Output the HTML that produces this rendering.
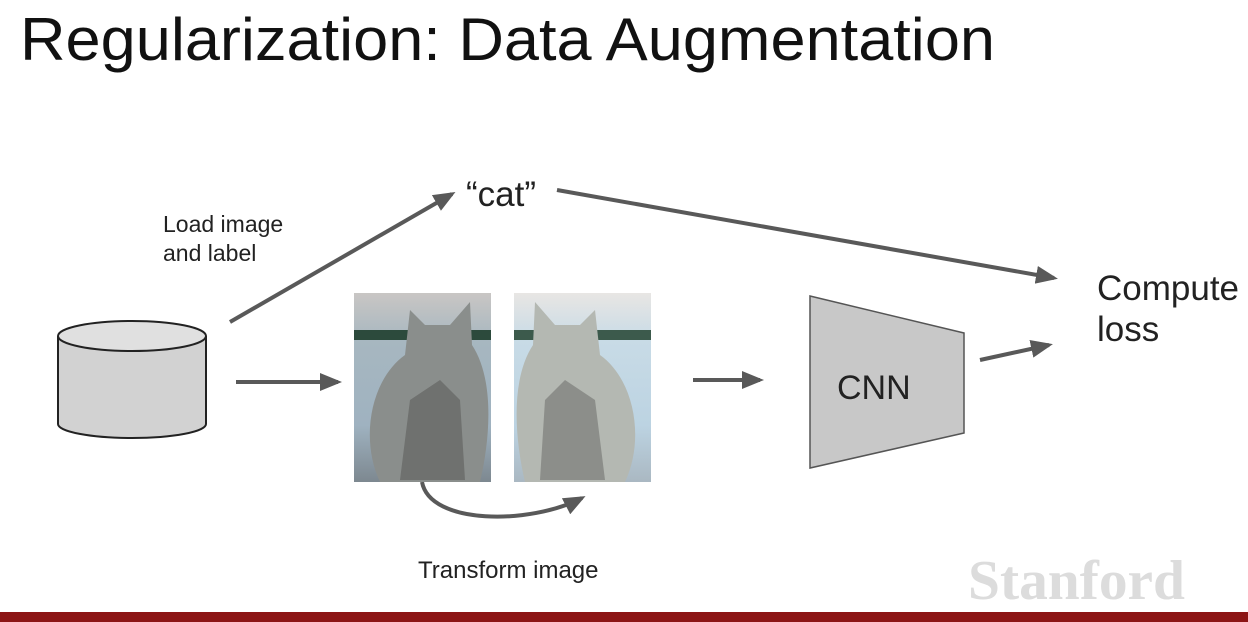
<!DOCTYPE html>
<html><head><meta charset="utf-8"><style>
html,body{margin:0;padding:0;background:#fff;width:1248px;height:622px;overflow:hidden}
</style></head><body>
<svg width="1248" height="622" viewBox="0 0 1248 622" xmlns="http://www.w3.org/2000/svg">
<defs>
<marker id="ah" markerWidth="22" markerHeight="18" refX="18" refY="9" orient="auto" markerUnits="userSpaceOnUse" viewBox="0 0 22 18">
<path d="M0,0 L22,9 L0,18 z" fill="#595959"/></marker>
<linearGradient id="bg1" x1="0" y1="0" x2="0" y2="1">
<stop offset="0" stop-color="#c9c6c4"/><stop offset="0.25" stop-color="#a7b7c0"/><stop offset="0.7" stop-color="#9fb2c0"/><stop offset="1" stop-color="#7d8890"/></linearGradient>
<linearGradient id="bg2" x1="0" y1="0" x2="0" y2="1">
<stop offset="0" stop-color="#e8e6e4"/><stop offset="0.25" stop-color="#c8dbe6"/><stop offset="0.7" stop-color="#bcd3e2"/><stop offset="1" stop-color="#aab8c2"/></linearGradient>
</defs>
<text x="20" y="60" font-family="Liberation Sans, sans-serif" font-size="60" textLength="975" lengthAdjust="spacingAndGlyphs" fill="#111">Regularization: Data Augmentation</text>
<text x="163" y="232" font-family="Liberation Sans, sans-serif" font-size="23" fill="#222">Load image</text>
<text x="163" y="261" font-family="Liberation Sans, sans-serif" font-size="23" fill="#222">and label</text>
<text x="466" y="206" font-family="Liberation Sans, sans-serif" font-size="35" fill="#222">“cat”</text>
<text x="1097" y="300" font-family="Liberation Sans, sans-serif" font-size="35" fill="#222">Compute</text>
<text x="1097" y="341" font-family="Liberation Sans, sans-serif" font-size="35" fill="#222">loss</text>
<text x="418" y="578" font-family="Liberation Sans, sans-serif" font-size="24" fill="#222">Transform image</text>
<path d="M58,336 L58,424 A74,14 0 0 0 206,424 L206,336" fill="#d2d2d2" stroke="#222" stroke-width="2"/>
<ellipse cx="132" cy="336" rx="74" ry="15" fill="#e0e0e0" stroke="#222" stroke-width="2"/>
<g stroke="#595959" stroke-width="4" fill="none">
<line x1="230" y1="322" x2="452" y2="194" marker-end="url(#ah)"/>
<line x1="557" y1="190" x2="1054" y2="278" marker-end="url(#ah)"/>
<line x1="236" y1="382" x2="338" y2="382" marker-end="url(#ah)"/>
<line x1="693" y1="380" x2="760" y2="380" marker-end="url(#ah)"/>
<line x1="980" y1="360" x2="1049" y2="345" marker-end="url(#ah)"/>
<path d="M422,482 C430,525 530,525 582,498" marker-end="url(#ah)"/>
</g>
<polygon points="810,296 964,333 964,433 810,468" fill="#c8c8c8" stroke="#555" stroke-width="1.5"/>
<text x="837" y="399" font-family="Liberation Sans, sans-serif" font-size="34" fill="#222">CNN</text>
<g>
<rect x="354" y="293" width="137" height="189" fill="url(#bg1)"/>
<rect x="354" y="330" width="137" height="10" fill="#2c4a3c"/>
<path d="M380,482 C360,440 370,380 405,355 L410,310 L425,325 L450,325 L470,302 L472,345 C495,380 490,440 480,482 Z" fill="#8a8e8c"/>
<path d="M400,480 L410,400 L440,380 L460,400 L465,480 Z" fill="#6f716f"/>
<rect x="514" y="293" width="137" height="189" fill="url(#bg2)"/>
<rect x="514" y="330" width="137" height="10" fill="#3c5a4c"/>
<path d="M625,482 C645,440 635,380 600,355 L595,310 L580,325 L555,325 L535,302 L533,345 C510,380 515,440 525,482 Z" fill="#b4b8b2"/>
<path d="M605,480 L595,400 L565,380 L545,400 L540,480 Z" fill="#8c8e8a"/>
</g>
<text x="968" y="599" font-family="Liberation Serif, serif" font-size="56" font-weight="bold" textLength="217" lengthAdjust="spacingAndGlyphs" fill="#dcdcdc">Stanford</text>
<rect x="0" y="612" width="1248" height="10" fill="#8c1515"/>
</svg>
</body></html>
